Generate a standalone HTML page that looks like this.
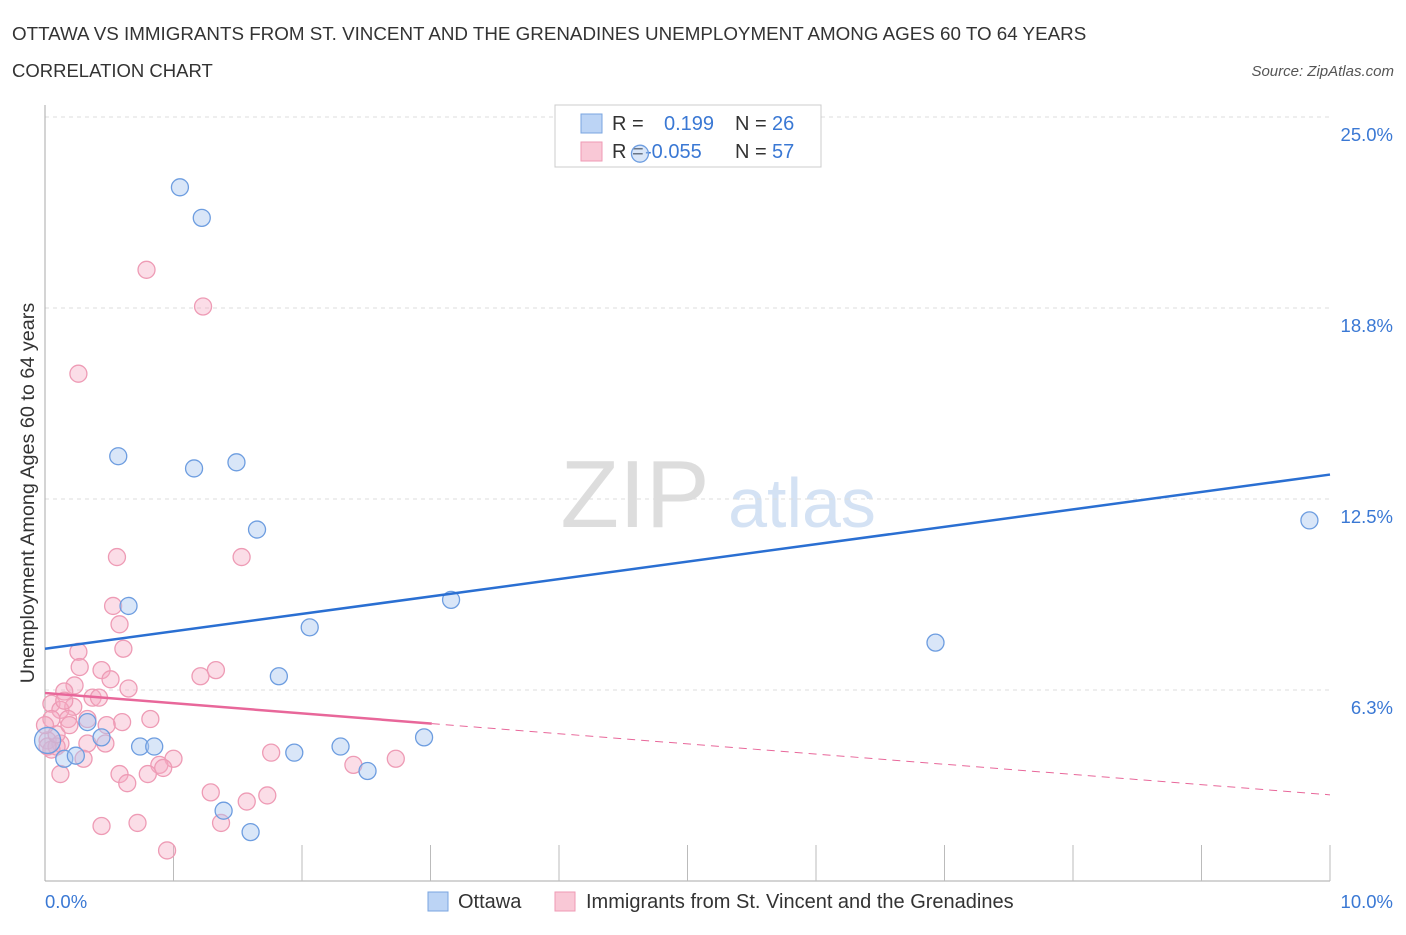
<!DOCTYPE html>
<html><head><meta charset="utf-8"><style>
body{margin:0;background:#fff;font-family:"Liberation Sans",sans-serif}
svg text{font-family:"Liberation Sans",sans-serif}
</style></head><body>
<svg id="c" width="1406" height="930" xmlns="http://www.w3.org/2000/svg">
<text x="12" y="40" font-size="18.8" fill="#333">OTTAWA VS IMMIGRANTS FROM ST. VINCENT AND THE GRENADINES UNEMPLOYMENT AMONG AGES 60 TO 64 YEARS</text>
<text x="12" y="77" font-size="18.5" fill="#333">CORRELATION CHART</text>
<text x="1394" y="76" font-size="15" fill="#555" font-style="italic" text-anchor="end">Source: ZipAtlas.com</text>
<text x="635" y="527" font-size="96" fill="#ddd" font-family="Liberation Serif" text-anchor="middle">ZIP</text>
<text x="802" y="527" font-size="70" fill="#d4e2f4" text-anchor="middle">atlas</text>
<text transform="translate(34,493) rotate(-90)" font-size="19.8" fill="#333" text-anchor="middle">Unemployment Among Ages 60 to 64 years</text>
<g id="grid"></g>
<g>
<rect x="555" y="105" width="266" height="62" fill="#fff" stroke="#ccc"/>
<rect x="581" y="114" width="21" height="19" fill="#bcd4f5" stroke="#7aa5e0"/>
<rect x="581" y="142" width="21" height="19" fill="#f9c8d6" stroke="#ef9ab4"/>
<text x="612" y="130" font-size="20" fill="#333">R =</text><text x="664" y="130" font-size="20" fill="#3a78d4">0.199</text>
<text x="735" y="130" font-size="20" fill="#333">N =</text><text x="772" y="130" font-size="20" fill="#3a78d4">26</text>
<text x="612" y="158" font-size="20" fill="#333">R =</text><text x="645" y="158" font-size="20" fill="#3a78d4">-0.055</text>
<text x="735" y="158" font-size="20" fill="#333">N =</text><text x="772" y="158" font-size="20" fill="#3a78d4">57</text>
</g>
<g id="pts"></g><g id="trend"></g>
<g>
<rect x="428" y="892" width="20" height="19" fill="#bcd4f5" stroke="#7aa5e0"/>
<text x="458" y="908" font-size="20" fill="#333">Ottawa</text>
<rect x="555" y="892" width="20" height="19" fill="#f9c8d6" stroke="#ef9ab4"/>
<text x="586" y="908" font-size="20" fill="#333">Immigrants from St. Vincent and the Grenadines</text>
</g>
</svg>
<script>
const yTicks=[6.25,12.5,18.75,25];
const yTickLabels=["6.3%","12.5%","18.8%","25.0%"];
const xMin=0,xMax=10,yMax=25;
const ottawaX=[1.05,1.22,4.63,0.57,1.16,1.49,1.65,9.84,0.65,3.16,2.06,6.93,1.82,0.33,0.44,0.74,0.85,0.15,0.24,0.02,1.94,2.30,2.51,2.95,1.39,1.60];
const ottawaY=[22.7,21.7,23.8,13.9,13.5,13.7,11.5,11.8,9.0,9.2,8.3,7.8,6.7,5.2,4.7,4.4,4.4,4.0,4.1,4.6,4.2,4.4,3.6,4.7,2.3,1.6];
const svgX=[0.79,1.23,0.26,0.56,1.53,0.53,0.58,0.61,0.26,0.27,0.44,1.33,0.51,1.21,0.65,0.23,0.15,0.37,0.42,0.05,0.22,0.12,0.18,0.33,0.60,0.82,0.48,0.05,0.02,0.12,0.33,0.47,0.05,0.09,1.76,0.30,1.00,0.89,0.92,2.40,2.73,0.58,0.80,0.12,0.64,1.29,1.73,1.57,0.44,0.72,1.37,0.95,0.02,0.09,0.15,0.19,0.0];
const svgY=[20.0,18.8,16.6,10.6,10.6,9.0,8.4,7.6,7.5,7.0,6.9,6.9,6.6,6.7,6.3,6.4,6.2,6.0,6.0,5.8,5.7,5.6,5.3,5.3,5.2,5.3,5.1,5.3,4.6,4.5,4.5,4.5,4.3,4.4,4.2,4.0,4.0,3.8,3.7,3.8,4.0,3.5,3.5,3.5,3.2,2.9,2.8,2.6,1.8,1.9,1.9,1.0,4.4,4.8,5.9,5.1,5.1];
const X=v=>45+(v-xMin)/(xMax-xMin)*1285;
const Y=v=>881-v/yMax*764;
const NS="http://www.w3.org/2000/svg";
function mk(t,a,p){const e=document.createElementNS(NS,t);for(const k in a)e.setAttribute(k,a[k]);p.appendChild(e);return e;}
const g=document.getElementById('grid');
mk('line',{x1:45,y1:Y(25),x2:1330,y2:Y(25),stroke:'#ddd','stroke-dasharray':'4,4'},g);
yTicks.forEach((t,i)=>{
 const l=mk('line',{x1:45,y1:Y(t),x2:1330,y2:Y(t),stroke:'#ddd','stroke-dasharray':'4,4'},g);
 
 const tx=mk('text',{x:1393,y:Y(t)+24,'font-size':18.5,fill:'#3a78d4','text-anchor':'end'},g);tx.textContent=yTickLabels[i];
 
});
const ax=mk('line',{x1:45,y1:881,x2:1330,y2:881,stroke:'#aaa'},g);

mk('line',{x1:45,y1:105,x2:45,y2:881,stroke:'#aaa'},g);
for(let i=1;i<=10;i++){const t=mk('line',{x1:45+i*128.5,y1:845,x2:45+i*128.5,y2:881,stroke:'#bbb'},g);}
let t0=mk('text',{x:45,y:908,'font-size':18.5,fill:'#3a78d4'},g);t0.textContent="0.0%";

let t1=mk('text',{x:1393,y:908,'font-size':18.5,fill:'#3a78d4','text-anchor':'end'},g);t1.textContent="10.0%";

const p=document.getElementById('pts');
svgX.forEach((x,i)=>{const c=mk('circle',{cx:X(x),cy:Y(svgY[i]),r:8.5,fill:'rgba(246,170,195,0.4)',stroke:'#ee9bb5','stroke-width':1.3},p);
 });
ottawaX.forEach((x,i)=>{const c=mk('circle',{cx:X(x),cy:Y(ottawaY[i]),r:i==19?13:8.5,fill:'rgba(170,200,240,0.45)',stroke:'#6d9de0','stroke-width':1.3},p);
 });
const tr=document.getElementById('trend');
const b=mk('line',{x1:X(0),y1:Y(7.6),x2:X(10),y2:Y(13.3),stroke:'#2a6fd2','stroke-width':2.5},tr);

const pk=mk('line',{x1:X(0),y1:Y(6.15),x2:X(3.01),y2:Y(5.15),stroke:'#e8679a','stroke-width':2.5},tr);

const pd=mk('line',{x1:X(3.01),y1:Y(5.15),x2:X(10),y2:Y(2.82),stroke:'#e8679a','stroke-width':1,'stroke-dasharray':'8,6'},tr);

</script>
</body></html>
